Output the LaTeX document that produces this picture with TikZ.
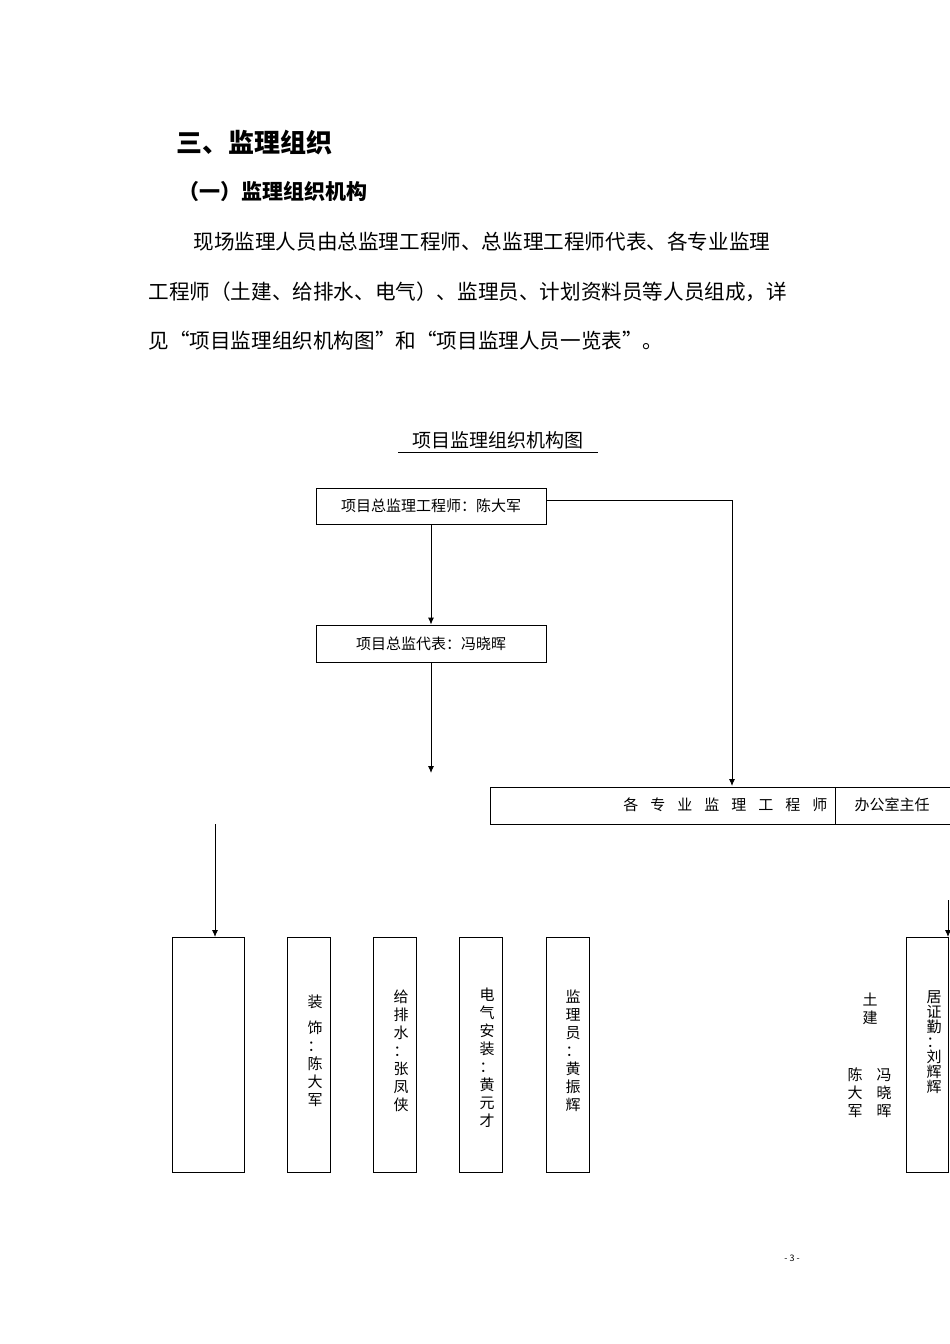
\documentclass[tikz,border=0pt]{standalone}
\usepackage{fontspec}
\setmainfont{Noto Sans CJK SC}
\newfontfamily\cjkb{Noto Sans CJK SC Bold}
\begin{document}
\begin{tikzpicture}[x=1pt,y=-1pt,
  bx/.style={draw,line width=0.9pt,inner sep=0},
  ar/.style={-{Latex[length=7pt,width=6pt]},line width=0.9pt},
  ln/.style={line width=0.9pt},
  vt/.style={align=center,font=\fontsize{15}{18}\selectfont,inner sep=0}]
\usetikzlibrary{arrows.meta}
\useasboundingbox (0,0) rectangle (950,1344);
\node[anchor=west,font=\fontsize{26}{30}\selectfont\bfseries] (t1) at (173,143) {三、监理组织};
\node[anchor=west,font=\fontsize{21}{26}\selectfont\bfseries] (t2) at (175,192) {（一）监理组织机构};
\node[anchor=west,font=\fontsize{20.6}{24}\selectfont] (p1) at (190,242) {现场监理人员由总监理工程师、总监理工程师代表、各专业监理};
\node[anchor=west,font=\fontsize{20.6}{24}\selectfont] (p2) at (145,292) {工程师（土建、给排水、电气）、监理员、计划资料员等人员组成，详};
\node[anchor=west,font=\fontsize{20.6}{24}\selectfont] (p3) at (145,341) {见“项目监理组织机构图”和“项目监理人员一览表”。};
\node[font=\fontsize{19}{22}\selectfont] (ct) at (498,440) {项目监理组织机构图};
\draw[ln] (398,452) -- (598,452);
\node[bx,minimum width=230,minimum height=36,font=\fontsize{15}{18}\selectfont] (b1) at (431,506) {项目总监理工程师：陈大军};
\node[bx,minimum width=230,minimum height=37,font=\fontsize{15}{18}\selectfont] (b2) at (431,643.5) {项目总监代表：冯晓晖};
\coordinate (a1) at (431,773);
\draw[ar] (b1.south) -- (b2.north);
\draw[ar] (b2.south) -- (a1);
\draw[bx] (490,787) rectangle (950,824);
\draw[ln] (835,787) -- (835,824);
\node[anchor=east,font=\fontsize{15}{18}\selectfont] (g1) at (831,805) {各\hspace{0.8em}专\hspace{0.8em}业\hspace{0.8em}监\hspace{0.8em}理\hspace{0.8em}工\hspace{0.8em}程\hspace{0.8em}师};
\node[font=\fontsize{15}{18}\selectfont] (g2) at (892,805) {办公室主任};
\coordinate (r1) at (732,500);
\coordinate (r2) at (732,786);
\draw[ln] (b1.east |- r1) -- (r1);
\draw[ar] (r1) -- (r2);
\coordinate (l1) at (215,824);
\coordinate (l2) at (215,937);
\draw[ar] (l1) -- (l2);
\coordinate (e1) at (948,900);
\coordinate (e2) at (948,937);
\draw[ar] (e1) -- (e2);
\draw[bx] (172,937) rectangle (244,1172);
\draw[bx] (287,937) rectangle (330,1172);
\draw[bx] (373,937) rectangle (416,1172);
\draw[bx] (459,937) rectangle (502,1172);
\draw[bx] (546,937) rectangle (589,1172);
\draw[bx] (906,937) rectangle (948,1172);
\node[vt,anchor=north] (v1) at (315,995) {装\\[8pt]饰\\：\\陈\\大\\军};
\node[vt,anchor=north] (v2) at (401,990) {给\\排\\水\\：\\张\\凤\\侠};
\node[vt,anchor=north] (v3) at (487,988) {电\\气\\安\\装\\：\\黄\\元\\才};
\node[vt,anchor=north] (v4) at (573,990) {监\\理\\员\\：\\黄\\振\\辉};
\node[vt,anchor=north,font=\fontsize{15}{15}\selectfont] (v5) at (934,990) {居\\证\\勤\\：\\刘\\辉\\辉};
\node[vt,anchor=north] (v6) at (870,993) {土\\建};
\node[vt,anchor=north] (v7) at (855,1068) {陈\\大\\军};
\node[vt,anchor=north] (v8) at (884,1068) {冯\\晓\\晖};
\node[font=\fontsize{9}{10}\selectfont] (pg) at (792,1258) {- 3 -};
\end{tikzpicture}
\end{document}
